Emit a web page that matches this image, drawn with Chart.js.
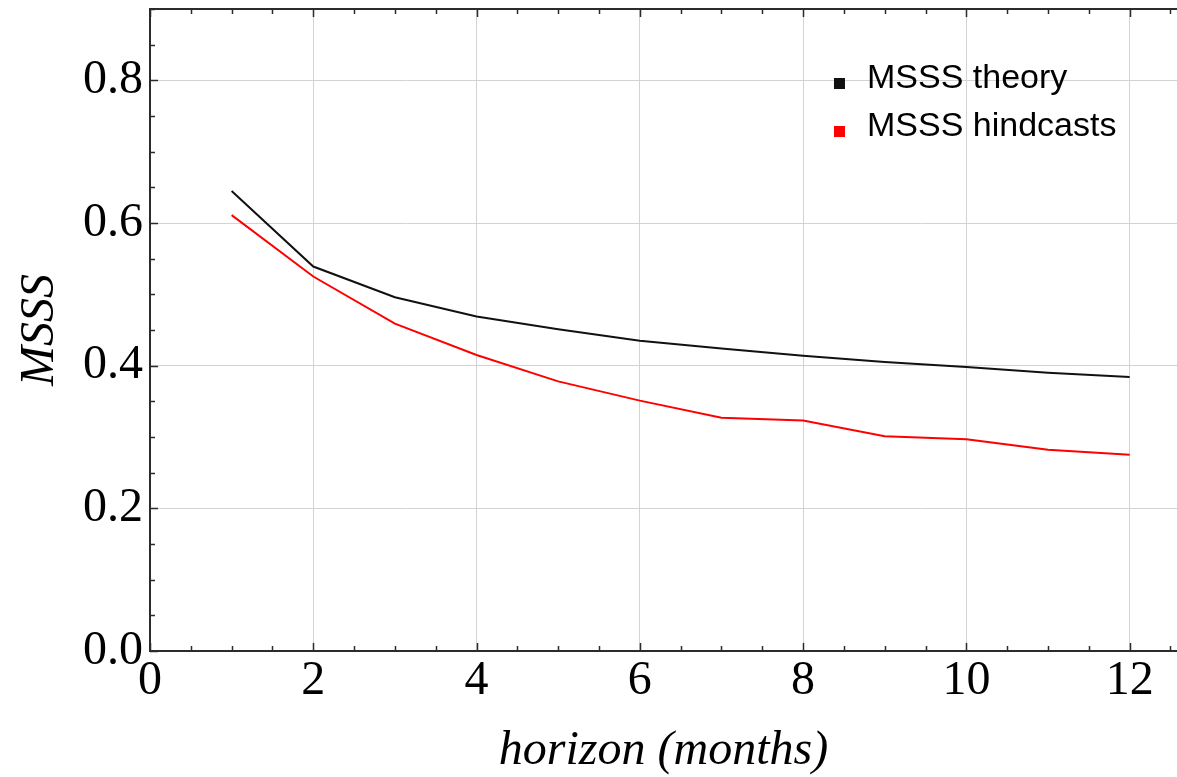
<!DOCTYPE html>
<html>
<head>
<meta charset="utf-8">
<script src="https://cdn.jsdelivr.net/npm/chart.js@4/dist/chart.umd.min.js"></script>
<style>
  html, body { margin: 0; padding: 0; background: #fff; }
</style>
</head>
<body>
<canvas id="myChart" width="1177" height="777"></canvas>
<script>
// data
const horizons = [1, 2, 3, 4, 5, 6, 7, 8, 9, 10, 11, 12];
const msssTheory = [0.645, 0.539, 0.496, 0.469, 0.451, 0.435, 0.424, 0.414, 0.405, 0.398, 0.390, 0.384];
const msssHindcasts = [0.611, 0.525, 0.459, 0.415, 0.378, 0.351, 0.327, 0.323, 0.301, 0.297, 0.282, 0.275];
const xTickValues = [0, 2, 4, 6, 8, 10, 12];
const yTickValues = [0.0, 0.2, 0.4, 0.6, 0.8];

const serif = "'Liberation Serif', 'DejaVu Serif', serif";
const axisColor = '#2b2b2b';

// Mathematica-style frame: top line plus inward major/minor ticks
const frameTicks = {
    id: 'frameTicks',
    afterDraw(chart) {
        const {ctx, chartArea: a, scales: {x, y}} = chart;
        ctx.save();
        ctx.strokeStyle = axisColor;
        ctx.lineWidth = 2;
        ctx.beginPath();
        ctx.moveTo(a.left - 1, a.top);
        ctx.lineTo(a.right, a.top);
        ctx.stroke();
        ctx.lineWidth = 1.5;
        ctx.beginPath();
        for (let v = 0; v <= x.max + 1e-9; v += 0.5) {
            const px = Math.round(x.getPixelForValue(v)) + 0.5;
            const len = Math.abs(v % 2) < 1e-9 ? 8 : 5;
            ctx.moveTo(px, a.bottom); ctx.lineTo(px, a.bottom - len);
            ctx.moveTo(px, a.top); ctx.lineTo(px, a.top + len);
        }
        for (let v = 0; v <= y.max + 1e-9; v += 0.05) {
            const py = Math.round(y.getPixelForValue(v)) + 0.5;
            const len = Math.abs((v / 0.2) - Math.round(v / 0.2)) < 1e-6 ? 8 : 5;
            ctx.moveTo(a.left, py); ctx.lineTo(a.left + len, py);
        }
        ctx.stroke();
        ctx.restore();
    }
};

// legend drawn inside the plot, top right
const insideLegend = {
    id: 'insideLegend',
    afterDraw(chart) {
        const {ctx, chartArea: a} = chart;
        const x0 = a.left + (a.right - a.left) * 0.666;
        let y0 = 88;
        ctx.save();
        ctx.font = "34px 'Liberation Sans', Arial, sans-serif";
        ctx.textBaseline = 'alphabetic';
        chart.data.datasets.forEach(ds => {
            ctx.fillStyle = ds.borderColor;
            ctx.fillRect(x0, y0 - 10, 11, 11);
            ctx.fillStyle = '#000';
            ctx.fillText(ds.label, x0 + 33, y0);
            y0 += 48;
        });
        ctx.restore();
    }
};

const ctx = document.getElementById('myChart').getContext('2d');
const myChart = new Chart(ctx, {
    type: 'line',
    data: {
        datasets: [{
            label: 'MSSS theory',
            data: horizons.map((h, i) => ({x: h, y: msssTheory[i]})),
            borderColor: '#111111',
            borderWidth: 2,
            pointRadius: 0,
            tension: 0
        }, {
            label: 'MSSS hindcasts',
            data: horizons.map((h, i) => ({x: h, y: msssHindcasts[i]})),
            borderColor: '#ff0000',
            borderWidth: 2,
            pointRadius: 0,
            tension: 0
        }]
    },
    options: {
        responsive: false,
        animation: false,
        devicePixelRatio: 1,
        layout: {
            padding: {top: 9, right: 0, left: 0, bottom: 0}
        },
        plugins: {
            legend: { display: false },
            tooltip: { enabled: false }
        },
        scales: {
            x: {
                type: 'linear',
                min: 0,
                max: 12.58,
                afterBuildTicks: s => { s.ticks = xTickValues.map(v => ({value: v})); },
                afterFit: s => { s.height = 126; s.paddingLeft = 0; s.paddingRight = 0; },
                grid: { color: '#d3d3d3', lineWidth: 1, drawTicks: false },
                border: { color: axisColor, width: 2 },
                ticks: {
                    padding: 2,
                    color: '#000',
                    font: { family: serif, size: 48 },
                    maxRotation: 0
                },
                title: {
                    display: true,
                    text: 'horizon (months)',
                    color: '#000',
                    font: { family: serif, size: 48, style: 'italic', lineHeight: 1 },
                    padding: { top: 0, bottom: 2 }
                }
            },
            y: {
                min: 0,
                max: 0.9,
                afterBuildTicks: s => { s.ticks = yTickValues.map(v => ({value: v})); },
                afterFit: s => { s.width = 150; s.paddingTop = 0; s.paddingBottom = 0; },
                grid: { color: '#d3d3d3', lineWidth: 1, drawTicks: false },
                border: { color: axisColor, width: 2 },
                ticks: {
                    padding: 7,
                    color: '#000',
                    font: { family: serif, size: 48 },
                    callback: v => Number(v).toFixed(1)
                },
                title: {
                    display: true,
                    text: 'MSSS',
                    color: '#000',
                    font: { family: serif, size: 48, style: 'italic', lineHeight: 1 },
                    padding: { top: 16, bottom: 0 }
                }
            }
        }
    },
    plugins: [frameTicks, insideLegend]
});
</script>
</body>
</html>
